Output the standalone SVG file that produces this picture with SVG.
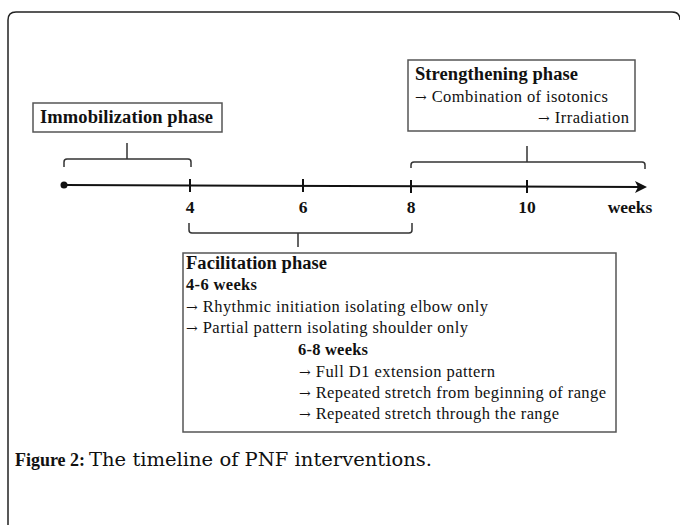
<svg xmlns="http://www.w3.org/2000/svg" width="680" height="525" viewBox="0 0 680 525">
<style>
.t{font-family:"Liberation Serif","Times New Roman",serif;fill:#111}
.b{font-weight:bold}
.ti{font-size:18.5px;font-weight:bold}
.r{font-size:16.5px}
.ar{font-family:"DejaVu Serif",serif;font-size:14px}
.lb{font-size:17.5px;font-weight:bold;text-anchor:middle}
.box{fill:#fff;stroke:#555;stroke-width:1.5}
.br{fill:none;stroke:#333;stroke-width:1.5}
.tick{stroke:#111;stroke-width:2}
.cap{font-family:"DejaVu Serif",serif;font-size:18px;fill:#111}
</style>
<rect width="680" height="525" fill="#fff"/>
<path d="M8,525 V20 Q8,12 16,12 H672 Q680,12 680,20" fill="none" stroke="#222" stroke-width="1.5"/>

<g id="immobilization">
<rect class="box" x="33" y="103" width="189" height="29"/>
<text class="t ti" x="40" y="123" textLength="173" lengthAdjust="spacing">Immobilization phase</text>
</g>

<g id="strengthening">
<rect class="box" x="408" y="60" width="227" height="71"/>
<text class="t ti" x="415" y="80" textLength="163" lengthAdjust="spacing">Strengthening phase</text>
<text class="t r" x="415" y="102" textLength="193" lengthAdjust="spacing"><tspan class="ar">→</tspan> Combination of isotonics</text>
<text class="t r" x="538" y="123" textLength="91" lengthAdjust="spacing"><tspan class="ar">→</tspan> Irradiation</text>
</g>

<g id="timeline">
<line x1="64" y1="185" x2="642" y2="187" stroke="#111" stroke-width="2"/>
<circle cx="64" cy="185" r="3.5" fill="#111"/>
<path d="M635,181 L647,187 L635,193 L638,187 Z" fill="#111"/>
<line class="tick" x1="190" y1="179" x2="190" y2="192"/>
<line class="tick" x1="303" y1="179" x2="303" y2="192"/>
<line class="tick" x1="411" y1="180" x2="411" y2="193"/>
<line class="tick" x1="527" y1="180" x2="527" y2="193"/>
<text class="t lb" x="190" y="213">4</text>
<text class="t lb" x="303" y="213">6</text>
<text class="t lb" x="411" y="213">8</text>
<text class="t lb" x="527" y="213">10</text>
<text class="t lb" x="630" y="213">weeks</text>
</g>

<g id="connectors">
<path class="br" d="M64,167 V162 Q64,159 67,159 H188 Q191,159 191,162 V167 M127,159 V143"/>
<path class="br" d="M411,168 V165 Q411,162 414,162 H642 Q645,162 645,165 V169 M527,162 V146"/>
<path class="br" d="M189,223 V230 Q189,233 192,233 H409 Q412,233 412,230 V223 M298,233 V247"/>
</g>

<g id="facilitation">
<rect class="box" x="183" y="253" width="433" height="179"/>
<text class="t ti" x="186" y="269" textLength="141" lengthAdjust="spacing">Facilitation phase</text>
<text class="t b" font-size="16.5" x="186" y="290" textLength="71" lengthAdjust="spacing">4-6 weeks</text>
<text class="t r" x="186" y="312" textLength="302" lengthAdjust="spacing"><tspan class="ar">→</tspan> Rhythmic initiation isolating elbow only</text>
<text class="t r" x="186" y="333" textLength="282" lengthAdjust="spacing"><tspan class="ar">→</tspan> Partial pattern isolating shoulder only</text>
<text class="t b" font-size="16.5" x="298" y="355" textLength="70" lengthAdjust="spacing">6-8 weeks</text>
<text class="t r" x="299" y="377" textLength="196" lengthAdjust="spacing"><tspan class="ar">→</tspan> Full D1 extension pattern</text>
<text class="t r" x="299" y="398" textLength="307" lengthAdjust="spacing"><tspan class="ar">→</tspan> Repeated stretch from beginning of range</text>
<text class="t r" x="299" y="419" textLength="260" lengthAdjust="spacing"><tspan class="ar">→</tspan> Repeated stretch through the range</text>
</g>

<g id="caption">
<text class="t b" font-size="18" x="15" y="466" textLength="70" lengthAdjust="spacingAndGlyphs">Figure 2:</text>
<text class="cap" x="89" y="466" textLength="343" lengthAdjust="spacingAndGlyphs">The timeline of PNF interventions.</text>
</g>
</svg>
